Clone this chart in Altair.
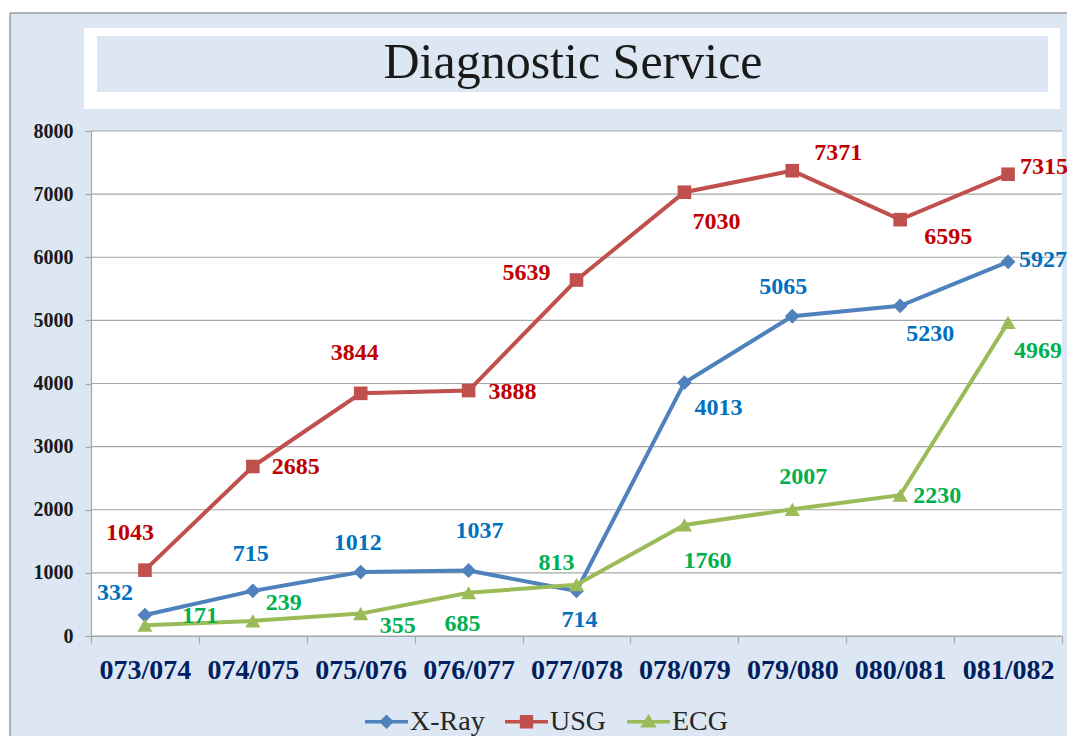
import altair as alt
import pandas as pd

# ---------------- data ----------------
YEARS = ["073/074", "074/075", "075/076", "076/077", "077/078",
         "078/079", "079/080", "080/081", "081/082"]
SERIES = ["X-Ray", "USG", "ECG"]
XRAY = [332, 715, 1012, 1037, 714, 4013, 5065, 5230, 5927]
USG = [1043, 2685, 3844, 3888, 5639, 7030, 7371, 6595, 7315]
ECG = [171, 239, 355, 685, 813, 1760, 2007, 2230, 4969]
Y_TICKS = [0, 1000, 2000, 3000, 4000, 5000, 6000, 7000, 8000]
TITLE = "Diagnostic Service"

# ---------------- styles ----------------
LINE_COLORS = {"X-Ray": "#4f81bd", "USG": "#c0504d", "ECG": "#9bbb59"}
LABEL_COLORS = {"X-Ray": "#0070c0", "USG": "#c00000", "ECG": "#00b050"}
SHAPES = {"X-Ray": "diamond", "USG": "square", "ECG": "triangle-up"}
SHAPE_SIZES = {"X-Ray": 220, "USG": 185, "ECG": 230}
LEGEND_PATHS = {
    "X-Ray": "M-1,-0.08H1V0.08H-1Z M0,-0.34L0.34,0L0,0.34L-0.34,0Z",
    "USG": "M-1,-0.08H1V0.08H-1Z M-0.31,-0.31H0.31V0.31H-0.31Z",
    "ECG": "M-1,-0.08H1V0.08H-1Z M0,-0.36L0.38,0.27L-0.38,0.27Z",
}
# label offsets (dx, dy) in pixels, one per point
LABEL_OFFSETS = {
    "X-Ray": [(-30, -22), (-2, -37), (-3, -29), (11, -40), (3, 29),
              (34, 25), (-9, -29), (30, 28), (35, -2)],
    "USG": [(-15, -37), (43, 0), (-6, -40), (44, 1), (-50, -7),
            (32, 30), (46, -18), (48, 17), (36, -7)],
    "ECG": [(55, -9), (31, -18), (37, 12), (-6, 31), (-20, -22),
            (23, 36), (11, -32), (37, 1), (30, 29)],
}

SERIF = "Liberation Serif"
BG = "#dde7f3"
GRID = "#a6a6a6"
W, H = 971, 505

rows = []
for s, vals in zip(SERIES, [XRAY, USG, ECG]):
    for yr, v in zip(YEARS, vals):
        rows.append({"year": yr, "series": s, "value": v})
df = pd.DataFrame(rows)

x_enc = alt.X(
    "year:N", sort=YEARS, bandPosition=0.5, title=None,
    scale=alt.Scale(type="band", paddingInner=0, paddingOuter=0),
    axis=alt.Axis(tickBand="extent", tickSize=7, labelPadding=13, labelAngle=0,
                  labelFont=SERIF, labelFontSize=28, labelFontWeight="bold",
                  labelColor="#002060", grid=False, domainColor=GRID,
                  tickColor=GRID, domainWidth=1.2, tickWidth=1.2, zindex=1),
)
y_enc = alt.Y(
    "value:Q", title=None,
    scale=alt.Scale(domain=[0, 8000], nice=False),
    axis=alt.Axis(values=Y_TICKS, format="d", tickSize=6, labelPadding=12,
                  labelFont=SERIF, labelFontSize=20, labelFontWeight="bold",
                  labelColor="#1a1a1a", grid=False,
                  domainColor=GRID, tickColor=GRID, domainWidth=1.2,
                  tickWidth=1.2, zindex=1),
)

one = pd.DataFrame({"k": [0]})


def box(x1, x2, y1, y2, color):
    return alt.Chart(one).mark_rect(color=color).encode(
        x=alt.value(x1), x2=alt.value(x2), y=alt.value(y1), y2=alt.value(y2))


layers = []
# white outside the outer border, and the grey border lines
layers.append(box(-83, 1100, -123, -118, "white"))
layers.append(box(-83, -81, -123, 700, "white"))
layers.append(alt.Chart(one).mark_rule(color="#9a9a9a", strokeWidth=1.5).encode(
    x=alt.value(-81), x2=alt.value(1100), y=alt.value(-118)))
layers.append(alt.Chart(one).mark_rule(color="#9a9a9a", strokeWidth=1.5).encode(
    x=alt.value(-81), y=alt.value(-118), y2=alt.value(700)))
# title panel
layers.append(box(-7, 969, -103, -22, "white"))
layers.append(box(6, 957, -95, -39, BG))
layers.append(alt.Chart(one).mark_text(
    text=TITLE, font=SERIF, fontSize=50, color="#1a1a1a",
    align="center", baseline="alphabetic").encode(
    x=alt.value(482), y=alt.value(-53)))

# white plot area and grid lines
layers.append(box(0, W, 0, H, "white"))
layers.append(alt.Chart(pd.DataFrame({"v": Y_TICKS})).mark_rule(
    color=GRID, strokeWidth=1.2).encode(
    y=alt.Y("v:Q", scale=alt.Scale(domain=[0, 8000], nice=False)),
    x=alt.value(0), x2=alt.value(W)))

# lines and markers
for s in SERIES:
    d = alt.Chart(df).transform_filter(alt.datum.series == s)
    layers.append(d.mark_line(color=LINE_COLORS[s], strokeWidth=4).encode(
        x=x_enc, y=y_enc))
for s in SERIES:
    d = alt.Chart(df).transform_filter(alt.datum.series == s)
    layers.append(d.mark_point(filled=True, opacity=1, shape=SHAPES[s],
                               size=SHAPE_SIZES[s], color=LINE_COLORS[s]).encode(
        x=x_enc, y=y_enc))

# data labels
for s in SERIES:
    for yr, (dx, dy) in zip(YEARS, LABEL_OFFSETS[s]):
        d = alt.Chart(df).transform_filter(
            (alt.datum.series == s) & (alt.datum.year == yr))
        layers.append(d.mark_text(
            dx=dx, dy=dy, font=SERIF, fontSize=24, fontWeight="bold",
            color=LABEL_COLORS[s], align="center", baseline="middle").encode(
            x=x_enc, y=y_enc, text="value:Q"))

# legend (drawn from an empty layer with explicit domains)
legend_layer = alt.Chart(df).transform_filter("false").mark_point(
    filled=True, opacity=1, size=1849).encode(
    color=alt.Color("series:N", scale=alt.Scale(domain=SERIES,
                    range=[LINE_COLORS[s] for s in SERIES]),
                    legend=alt.Legend(title=None)),
    shape=alt.Shape("series:N", scale=alt.Scale(domain=SERIES,
                    range=[LEGEND_PATHS[s] for s in SERIES]),
                    legend=alt.Legend(title=None)),
)
layers.append(legend_layer)

chart = alt.layer(*layers).properties(
    width=W, height=H,
    padding={"left": 83, "top": 123, "right": 5, "bottom": 100},
    autosize=alt.AutoSizeParams(type="none"),
).configure(
    background=BG,
).configure_view(
    stroke="transparent",
).configure_legend(
    orient="none", legendX=274, legendY=569, direction="horizontal",
    columns=3, padding=0, symbolSize=1849, symbolStrokeWidth=0,
    labelFont=SERIF, labelFontSize=28, labelColor="#262626",
    labelOffset=2, columnPadding=20,
)

chart.save("out.html", embed_options={"renderer": "svg", "actions": False})
